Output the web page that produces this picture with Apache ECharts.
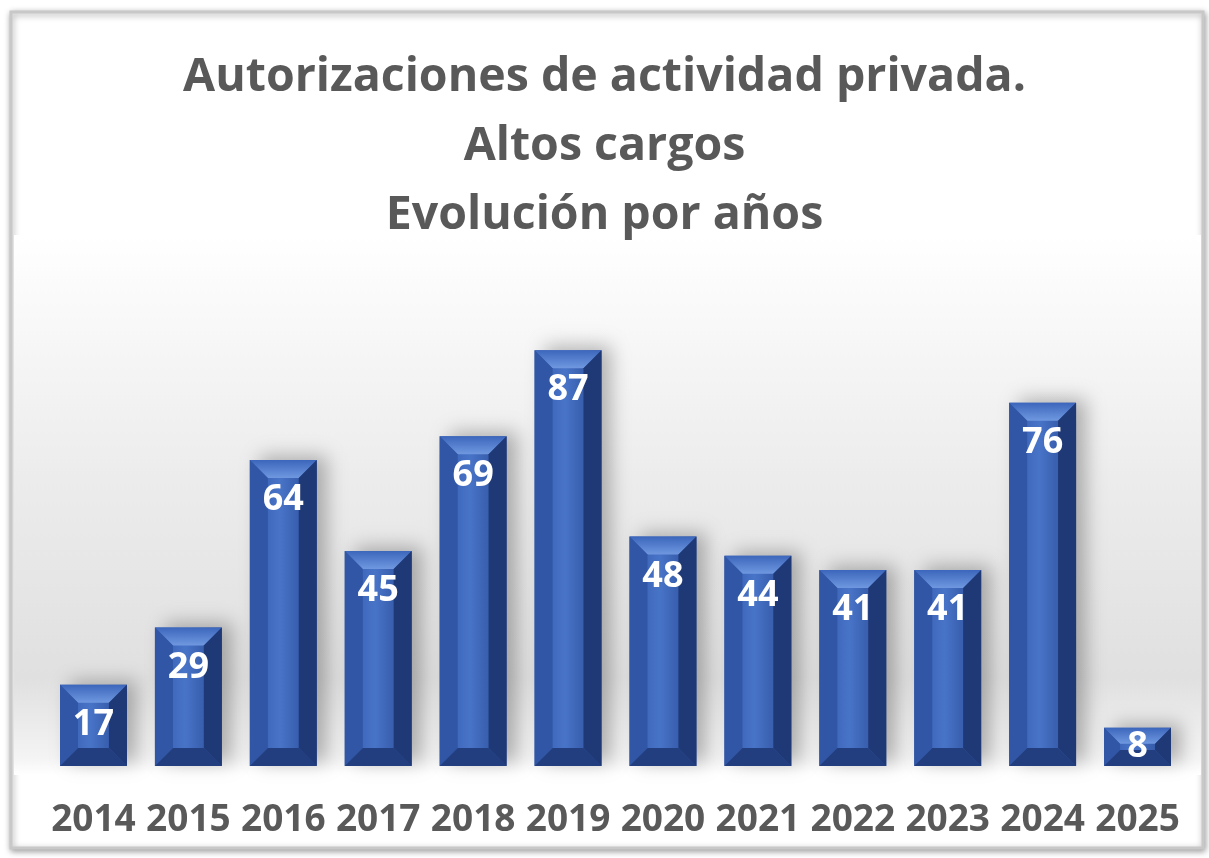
<!DOCTYPE html>
<html>
<head>
    <meta charset="utf-8">
    <title>Autorizaciones de actividad privada</title>
    <script src="https://cdn.jsdelivr.net/npm/echarts@6/dist/echarts.min.js"></script>
    <style>
        html, body { margin: 0; padding: 0; background: #fff; }
        #main { width: 1209px; height: 858px; }
    </style>
</head>
<body>
    <div id="main"></div>
    <script type="text/javascript">
        var years = ['2014', '2015', '2016', '2017', '2018', '2019', '2020', '2021', '2022', '2023', '2024', '2025'];
        var counts = [17, 29, 64, 45, 69, 87, 48, 44, 41, 41, 76, 8];
        var titleLines = ['Autorizaciones de actividad privada.', 'Altos cargos', 'Evolución por años'];

        var FONT = '"Open Sans", "DejaVu Sans", sans-serif';
        var GREY = '#595959';

        // bevelled 3D-looking bar, positions from the axes
        function renderBar(params, api) {
            var val = api.value(1);
            var top = api.coord([api.value(0), val]);
            var bottom = api.coord([api.value(0), 0]);
            var w = api.size([1, 0])[0] * 0.705;
            var x0 = top[0] - w / 2, x1 = top[0] + w / 2;
            var y0 = top[1], y1 = bottom[1];
            var h = y1 - y0;
            var b = Math.min(18, h / 2.4);
            var labelY = y0 + Math.min(40, h / 2);
            return {
                type: 'group',
                children: [
                    { // face
                        type: 'rect',
                        shape: { x: x0, y: y0, width: w, height: h },
                        style: {
                            fill: new echarts.graphic.LinearGradient(0, 0, 1, 0, [
                                { offset: 0, color: '#3359aa' },
                                { offset: 0.45, color: '#4874c8' },
                                { offset: 1, color: '#294993' }
                            ]),
                            shadowColor: 'rgba(0,0,0,0.28)',
                            shadowBlur: 18,
                            shadowOffsetX: 10,
                            shadowOffsetY: -4
                        }
                    },
                    { // top bevel
                        type: 'polygon',
                        shape: { points: [[x0, y0], [x1, y0], [x1 - b, y0 + b], [x0 + b, y0 + b]] },
                        style: {
                            fill: new echarts.graphic.LinearGradient(0, 0, 0, 1, [
                                { offset: 0, color: '#3c66bb' },
                                { offset: 1, color: '#6f98e0' }
                            ])
                        }
                    },
                    { // left bevel
                        type: 'polygon',
                        shape: { points: [[x0, y0], [x0 + b, y0 + b], [x0 + b, y1 - b], [x0, y1]] },
                        style: { fill: '#3056a5' }
                    },
                    { // right bevel
                        type: 'polygon',
                        shape: { points: [[x1, y0], [x1, y1], [x1 - b, y1 - b], [x1 - b, y0 + b]] },
                        style: { fill: '#1f3876' }
                    },
                    { // bottom bevel
                        type: 'polygon',
                        shape: { points: [[x0, y1], [x0 + b, y1 - b], [x1 - b, y1 - b], [x1, y1]] },
                        style: { fill: '#233e7e' }
                    },
                    {
                        type: 'text',
                        style: {
                            text: String(val),
                            x: top[0],
                            y: labelY,
                            align: 'center',
                            verticalAlign: 'middle',
                            fill: '#ffffff',
                            font: 'bold 36px ' + FONT
                        }
                    }
                ]
            };
        }

        var chart = echarts.init(document.getElementById('main'), null, { renderer: 'canvas' });
        chart.setOption({
            animation: false,
            backgroundColor: '#ffffff',
            graphic: [
                { // frame
                    type: 'rect',
                    z: -10,
                    shape: { x: 11, y: 12, width: 1192, height: 836 },
                    style: {
                        fill: '#ffffff',
                        stroke: '#c8c8c8',
                        lineWidth: 3,
                        shadowColor: 'rgba(0,0,0,0.35)',
                        shadowBlur: 6,
                        shadowOffsetX: 1,
                        shadowOffsetY: 2
                    }
                },
                { // soft grey wall behind the bars
                    type: 'rect',
                    z: -9,
                    shape: { x: 14, y: 235, width: 1187, height: 540 },
                    style: {
                        fill: new echarts.graphic.LinearGradient(0, 0, 0, 1, [
                            { offset: 0, color: '#ffffff' },
                            { offset: 0.45, color: '#ececec' },
                            { offset: 0.82, color: '#e0e0e0' },
                            { offset: 0.97, color: '#f4f4f4' },
                            { offset: 1, color: '#ffffff' }
                        ])
                    }
                }
            ],
            title: {
                text: titleLines.join('\n'),
                left: 'center',
                top: 38,
                textStyle: {
                    fontFamily: FONT,
                    fontWeight: 'bold',
                    fontSize: 46.5,
                    lineHeight: 69,
                    color: GREY
                }
            },
            grid: {
                left: 46,
                right: 24,
                top: 288,
                bottom: 92
            },
            xAxis: {
                type: 'category',
                data: years,
                axisLine: { show: false },
                axisTick: { show: false },
                axisLabel: {
                    interval: 0,
                    hideOverlap: false,
                    margin: 36,
                    fontFamily: FONT,
                    fontWeight: 'bold',
                    fontSize: 37,
                    color: GREY
                }
            },
            yAxis: {
                type: 'value',
                min: 0,
                max: 100,
                show: false,
                splitLine: { show: false }
            },
            series: [{
                type: 'custom',
                renderItem: renderBar,
                encode: { x: 0, y: 1 },
                data: counts.map(function (v, i) { return [i, v]; })
            }]
        });
    </script>
</body>
</html>
